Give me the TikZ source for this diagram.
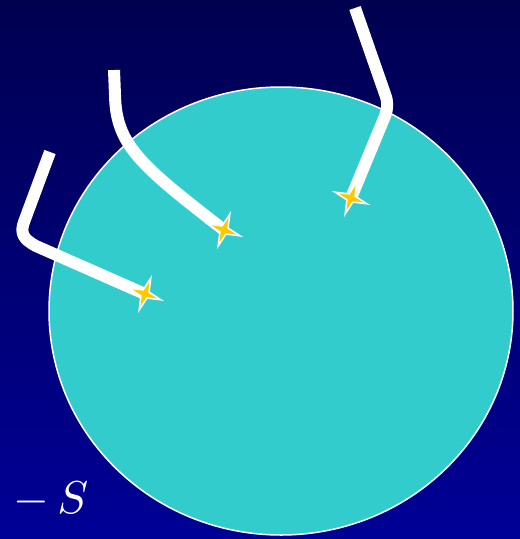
\documentclass[tikz,border=0pt]{standalone}
\begin{document}
\begin{tikzpicture}[x=1pt,y=-1pt,
  trail/.style={draw=white,line width=12pt,line cap=butt,line join=round},
  starsty/.style={fill=starfill,draw=white,line width=1.5pt,line join=miter},
  ball/.style={fill=ballfill,draw=white,line width=1.5pt}]
\definecolor{topblue}{RGB}{0,0,80}
\definecolor{botblue}{RGB}{0,0,150}
\definecolor{ballfill}{RGB}{51,204,204}
\definecolor{starfill}{RGB}{255,200,0}
\shade[top color=topblue,bottom color=botblue] (0,0) rectangle (520,539);
\useasboundingbox (0,0) rectangle (520,539);
\draw[ball] (281,311) ellipse [x radius=232, y radius=224];
\coordinate (s1) at (145,294);
\coordinate (s2) at (224,230);
\coordinate (s3) at (351,198);
\coordinate (a1) at (50,152);
\coordinate (a2) at (114,70);
\coordinate (a3) at (355,8);
\draw[trail] (a1) -- (24,222) .. controls (20,233) and (23,239) .. (36,246) -- (s1);
\draw[trail] (a2) -- (115,95) .. controls (116,145) and (140,165) .. (s2);
\draw[trail] (a3) -- (385,94) .. controls (388,102) and (388,108) .. (385,116) -- (s3);
\foreach \p in {s1,s2,s3}{
  \draw[starsty,shift={(\p)},rotate=-20]
    (0:17) -- (45:4.5) -- (90:17) -- (135:4.5) -- (180:17) -- (225:4.5) -- (270:17) -- (315:4.5) -- cycle;
}
\node[text=white,scale=4.6,inner sep=0pt] (lbl) at (51,500) {$-\,S$};
\end{tikzpicture}
\end{document}
